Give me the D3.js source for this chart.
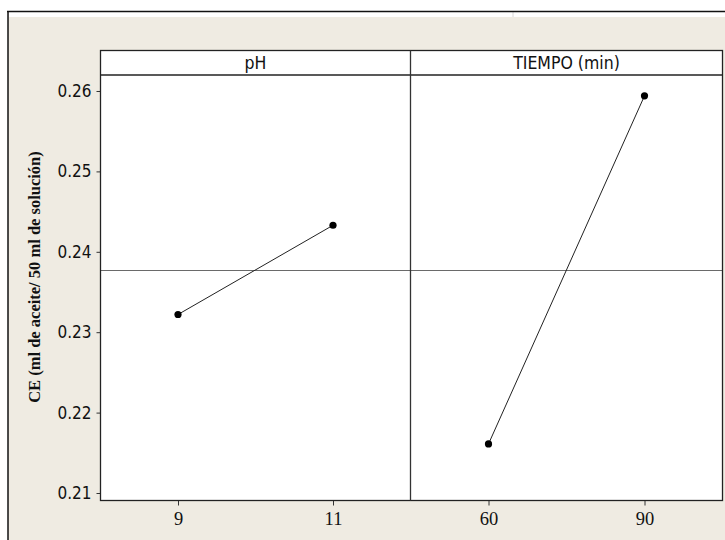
<!DOCTYPE html>
<html><head><meta charset="utf-8">
<script src="https://cdn.jsdelivr.net/npm/d3@7"></script>
<style>
html,body{margin:0;padding:0;background:#fff;}
svg{display:block;}
</style></head>
<body>
<script>
const factors = ["pH", "TIEMPO (min)"];
const phLevels = [9, 11];
const phMeans = [0.2322, 0.2433];
const tiempoLevels = [60, 90];
const tiempoMeans = [0.2161, 0.2594];
const yTicks = [0.21, 0.22, 0.23, 0.24, 0.25, 0.26];
const yTitle = "CE (ml de aceite/ 50 ml de solución)";

const W = 725, H = 540;
const svg = d3.select("body").append("svg").attr("width", W).attr("height", H);

// background frame
svg.append("rect").attr("x",0).attr("y",0).attr("width",W).attr("height",H).attr("fill","#ffffff");
svg.append("rect").attr("x",8).attr("y",11).attr("width",W-8).attr("height",H-11).attr("fill","#efebe2");
svg.append("rect").attr("x",9).attr("y",12).attr("width",W-9).attr("height",5).attr("fill","#ffffff");
svg.append("line").attr("x1",513).attr("x2",513).attr("y1",12).attr("y2",17).attr("stroke","#d8d8d8");
svg.append("line").attr("x1",7).attr("x2",W).attr("y1",11.5).attr("y2",11.5).attr("stroke","#111").attr("stroke-width",1.5);
svg.append("line").attr("x1",8).attr("x2",8).attr("y1",11).attr("y2",H).attr("stroke","#111").attr("stroke-width",1.5);

const plotL = 100.5, plotR = 722.5, plotT = 50.5, stripB = 75, plotB = 500.5, mid = 410.5;

const y = d3.scaleLinear().domain([0.20913, 0.26199]).range([500, 75]);
const x1 = d3.scaleLinear().domain([8, 12]).range([plotL, mid]);
const x2 = d3.scaleLinear().domain([45, 105]).range([mid, plotR]);

// plot area
svg.append("rect").attr("x",plotL).attr("y",plotT).attr("width",plotR-plotL).attr("height",plotB-plotT).attr("fill","#fff");

const panels = [
  {name: factors[0], x: x1, levels: phLevels, means: phMeans},
  {name: factors[1], x: x2, levels: tiempoLevels, means: tiempoMeans}
];
const allMeans = phMeans.concat(tiempoMeans);
const grand = d3.mean(allMeans);

// mean reference line
svg.append("line").attr("x1",plotL).attr("x2",plotR).attr("y1",Math.round(y(grand))+0.5).attr("y2",Math.round(y(grand))+0.5)
  .attr("stroke","#6a6a6a").attr("stroke-width",1);

panels.forEach(p => {
  const r = p.x.range();
  // strip label
  svg.append("text").attr("x",(r[0]+r[1])/2).attr("y",68.5)
    .attr("text-anchor","middle")
    .style("font-family","'DejaVu Sans Condensed','DejaVu Sans',sans-serif")
    .style("font-stretch","condensed")
    .style("font-size","17.5px").attr("fill","#111").text(p.name);
  const pts = p.levels.map((l,i)=>[p.x(l), y(p.means[i])]);
  svg.append("path").attr("d", d3.line()(pts)).attr("fill","none").attr("stroke","#222").attr("stroke-width",1);
  svg.selectAll(null).data(pts).enter().append("circle")
    .attr("cx",d=>d[0]).attr("cy",d=>d[1]).attr("r",3.6).attr("fill","#000");
  // x axis
  const ax = svg.append("g").attr("transform",`translate(0,${plotB})`)
    .call(d3.axisBottom(p.x).tickValues(p.levels).tickSize(5).tickPadding(6).tickFormat(d3.format("d")));
  ax.select(".domain").remove();
  ax.selectAll(".tick line").attr("stroke","#333");
  ax.selectAll("text").style("font-family","'Liberation Serif',serif").style("font-size","18.5px").attr("fill","#111");
});

// y axis
const ay = svg.append("g").attr("transform",`translate(${plotL},0)`)
  .call(d3.axisLeft(y).tickValues(yTicks).tickSize(4).tickPadding(5).tickFormat(d3.format(".2f")));
ay.select(".domain").remove();
ay.selectAll(".tick line").attr("stroke","#333");
ay.selectAll("text").style("font-family","'DejaVu Sans Condensed','DejaVu Sans',sans-serif")
  .style("font-stretch","condensed").style("font-size","17px").attr("fill","#111");

// borders
svg.append("rect").attr("x",plotL).attr("y",plotT).attr("width",plotR-plotL).attr("height",plotB-plotT)
  .attr("fill","none").attr("stroke","#222").attr("stroke-width",1.3);
svg.append("line").attr("x1",plotL).attr("x2",plotR).attr("y1",stripB).attr("y2",stripB).attr("stroke","#222").attr("stroke-width",1.3);
svg.append("line").attr("x1",mid).attr("x2",mid).attr("y1",plotT).attr("y2",plotB).attr("stroke","#333").attr("stroke-width",1.3);

// y title
svg.append("text").attr("transform","translate(40,277) rotate(-90)")
  .attr("text-anchor","middle")
  .style("font-family","'Liberation Serif',serif").style("font-weight","bold")
  .style("font-size","16.5px").attr("fill","#111").text(yTitle);
</script>
</body></html>
